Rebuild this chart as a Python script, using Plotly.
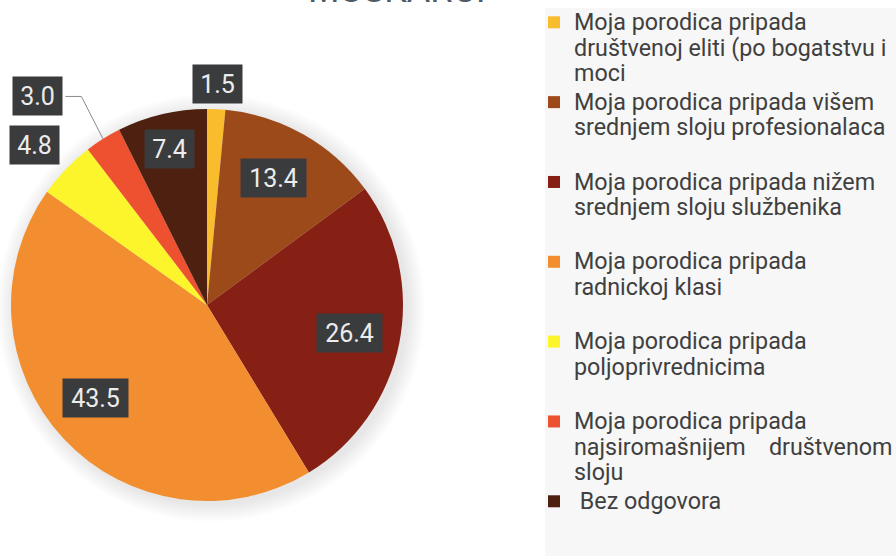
import math
import plotly.graph_objects as go

# ---- data ----
categories = [
    "Moja porodica pripada<br>društvenoj eliti (po bogatstvu i<br>moci",
    "Moja porodica pripada višem<br>srednjem sloju profesionalaca<br>\u00a0",
    "Moja porodica pripada nižem<br>srednjem sloju službenika<br>\u00a0",
    "Moja porodica pripada<br>radnickoj klasi<br>\u00a0",
    "Moja porodica pripada<br>poljoprivrednicima<br>\u00a0",
    "Moja porodica pripada<br>najsiromašnijem\u00a0\u00a0\u00a0\u00a0društvenom<br>sloju",
    "\u00a0Bez odgovora",
]
values = [1.5, 13.4, 26.4, 43.5, 4.8, 3.0, 7.4]
value_labels = ["1.5", "13.4", "26.4", "43.5", "4.8", "3.0", "7.4"]
title_text = "MUŠKARCI"

# ---- styles ----
colors = ["#f9bc2c", "#9c4a1a", "#861f14", "#f28e2f", "#fcf52c", "#ee512f", "#4d200f"]
label_radius = [1.13, 0.73, 0.74, 0.74, 1.2, 1.37, 0.82]
label_angle_shift = [0, -2, 0, 3, -1, -7, 0]

W, H = 896, 556
CX, CY, R = 207, 305, 196    # pie centre / radius in window pixels


def px(x):
    return x / W


def py(y):
    return 1 - y / H


SPAN = '<span style="font-size:23.3px">'

fig = go.Figure()
fig.add_trace(go.Pie(
    labels=[SPAN + c.replace("<br>", "</span><br>" + SPAN) + "</span>" for c in categories],
    values=values,
    sort=False,
    direction="clockwise",
    rotation=0,
    marker=dict(colors=colors, line=dict(width=0)),
    textinfo="none",
    hoverinfo="label+value",
    domain=dict(x=[px(CX - R), px(CX + R)], y=[py(CY + R), py(CY - R)]),
))

# soft shadow around the pie
for k in range(1, 13):
    rr = R + 1.5 * k
    fig.add_shape(type="circle", xref="paper", yref="paper",
                  x0=px(CX + 4 - rr), x1=px(CX + 4 + rr),
                  y0=py(CY + 3 + rr), y1=py(CY + 3 - rr),
                  fillcolor="rgba(0,0,0,0.009)", line=dict(width=0), layer="below")

# grey legend background
fig.add_shape(type="rect", xref="paper", yref="paper",
              x0=px(545), x1=1, y0=0, y1=py(8),
              fillcolor="#f7f7f7", line=dict(width=0), layer="below")

# value label boxes computed from the slice angles
total = sum(values)
cum = 0.0
for i, v in enumerate(values):
    mid = 360.0 * (cum + v / 2) / total
    cum += v
    th = math.radians(mid + label_angle_shift[i])
    lx = CX + label_radius[i] * R * math.sin(th)
    ly = CY - label_radius[i] * R * math.cos(th)
    bw = 16 * len(value_labels[i]) + 1
    fig.add_annotation(
        x=px(lx), y=py(ly), xref="paper", yref="paper",
        text=value_labels[i], showarrow=False,
        font=dict(family="Roboto", size=25, color="#ececec"),
        bgcolor="#3a3b3d", borderpad=0, width=bw, height=38,
        xanchor="center", yanchor="middle",
    )
    if label_radius[i] > 1.3:
        # elbow leader line from box to slice edge
        thm = math.radians(mid)
        ex = CX + R * math.sin(thm)
        ey = CY - R * math.cos(thm)
        sx = lx + bw / 2 + 3
        kx = sx + 16
        path = "M {:.5f} {:.5f} L {:.5f} {:.5f} L {:.5f} {:.5f}".format(
            px(sx), py(ly), px(kx), py(ly), px(ex), py(ey))
        fig.add_shape(type="path", xref="paper", yref="paper", path=path,
                      line=dict(color="#8a8a8a", width=1))

# title (cut off at the top like the reference)
fig.add_annotation(
    x=px(397), y=py(7), xref="paper", yref="paper",
    text=title_text, showarrow=False,
    font=dict(family="Roboto", size=36, color="#505a66"),
    xanchor="center", yanchor="bottom", yshift=-6,
)

fig.update_layout(
    width=W, height=H,
    margin=dict(l=0, r=0, t=0, b=0, autoexpand=False),
    paper_bgcolor="white",
    showlegend=True,
    legend=dict(
        x=px(534), y=py(3), xanchor="left", yanchor="top",
        bgcolor="rgba(0,0,0,0)",
        font=dict(family="Roboto", size=19.7, color="#404040"),
        valign="top", traceorder="normal",
        maxheight=700,
    ),
)

fig.write_html("out.html", config={"displayModeBar": False},
               post_script="document.body.style.margin='0';")
